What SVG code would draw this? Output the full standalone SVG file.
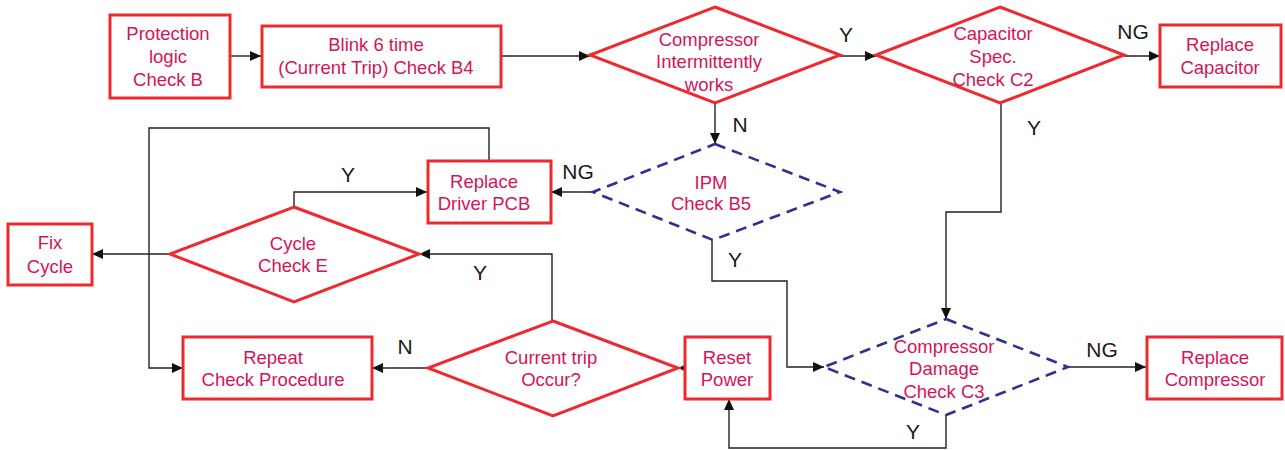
<svg xmlns="http://www.w3.org/2000/svg" width="1285" height="450" viewBox="0 0 1285 450">
<style>
.box{fill:#fff;stroke:#ed2a2f;stroke-width:3}
.dia{fill:#fff;stroke:#ed2a2f;stroke-width:3;stroke-linejoin:miter}
.dash{fill:#fff;stroke:#2e3192;stroke-width:2.6;stroke-dasharray:11 7}
.t{font-family:"Liberation Sans",Arial,sans-serif;font-size:18.5px;fill:#d4145a;text-anchor:middle}
.l{font-family:"Liberation Sans",Arial,sans-serif;font-size:21px;fill:#1a1a1a;text-anchor:middle}
.c{fill:none;stroke:#222;stroke-width:1.4}
</style>
<defs>
<marker id="a" markerUnits="userSpaceOnUse" markerWidth="11" markerHeight="10" refX="11" refY="5" orient="auto">
<path d="M0,0 L11,5 L0,10 Z" fill="#111"/>
</marker>
</defs>
<g id="connectors">
<path class="c" d="M230,56 H261" marker-end="url(#a)"/>
<path class="c" d="M501,56 H590" marker-end="url(#a)"/>
<path class="c" d="M840,56 H876" marker-end="url(#a)"/>
<path class="c" d="M1124,56 H1160" marker-end="url(#a)"/>
<path class="c" d="M715,103 V144" marker-end="url(#a)"/>
<path class="c" d="M593,192 H551" marker-end="url(#a)"/>
<path class="c" d="M489,162 V128 H149 V368 H183" marker-end="url(#a)"/>
<path class="c" d="M294,207 V192 H427" marker-end="url(#a)"/>
<path class="c" d="M170,254 H92" marker-end="url(#a)"/>
<path class="c" d="M552,321 V254 H419" marker-end="url(#a)"/>
<path class="c" d="M428,368 H372" marker-end="url(#a)"/>
<path class="c" d="M685,368 H678" marker-end="url(#a)"/>
<path class="c" d="M712,240 V281 H787 V367 H824" marker-end="url(#a)"/>
<path class="c" d="M1001,103 V212 H946 V319" marker-end="url(#a)"/>
<path class="c" d="M1068,367 H1146" marker-end="url(#a)"/>
<path class="c" d="M946,415 V448 H729 V399" marker-end="url(#a)"/>
<text class="l" x="846" y="42">Y</text>
<text class="l" x="1133" y="39">NG</text>
<text class="l" x="740" y="132">N</text>
<text class="l" x="1034" y="135">Y</text>
<text class="l" x="348" y="182">Y</text>
<text class="l" x="578" y="179">NG</text>
<text class="l" x="480" y="280">Y</text>
<text class="l" x="405" y="354">N</text>
<text class="l" x="735" y="267">Y</text>
<text class="l" x="1102" y="357">NG</text>
<text class="l" x="913" y="439">Y</text>
</g>
<g id="protection">
<rect class="box" x="110" y="15" width="120" height="83"/>
<text class="t" x="168" y="40">Protection</text>
<text class="t" x="168" y="63">logic</text>
<text class="t" x="168" y="86">Check B</text>
</g>
<g id="blink">
<rect class="box" x="262" y="26" width="239" height="61"/>
<text class="t" x="376" y="51">Blink 6 time</text>
<text class="t" x="376" y="74">(Current Trip) Check B4</text>
</g>
<g id="compressor-int">
<polygon class="dia" points="715,7 840,55 715,103 590,55"/>
<text class="t" x="709" y="46">Compressor</text>
<text class="t" x="709" y="68">Intermittently</text>
<text class="t" x="709" y="91">works</text>
</g>
<g id="capacitor">
<polygon class="dia" points="1000,7 1124,55 1000,103 876,55"/>
<text class="t" x="993" y="40">Capacitor</text>
<text class="t" x="993" y="63">Spec.</text>
<text class="t" x="993" y="86">Check C2</text>
</g>
<g id="replace-capacitor">
<rect class="box" x="1160" y="25" width="121" height="62"/>
<text class="t" x="1220" y="51">Replace</text>
<text class="t" x="1220" y="74">Capacitor</text>
</g>
<g id="ipm">
<polygon class="dash" points="715,144 840,192 713,240 593,192"/>
<text class="t" x="711" y="189">IPM</text>
<text class="t" x="711" y="210">Check B5</text>
</g>
<g id="replace-driver">
<rect class="box" x="428" y="161" width="123" height="62"/>
<text class="t" x="484" y="188">Replace</text>
<text class="t" x="484" y="210">Driver PCB</text>
</g>
<g id="cycle">
<polygon class="dia" points="294,207 419,254 294,302 170,254"/>
<text class="t" x="293" y="250">Cycle</text>
<text class="t" x="293" y="272">Check E</text>
</g>
<g id="fix-cycle">
<rect class="box" x="8" y="224" width="84" height="61"/>
<text class="t" x="50" y="249">Fix</text>
<text class="t" x="50" y="273">Cycle</text>
</g>
<g id="repeat">
<rect class="box" x="183" y="337" width="189" height="62"/>
<text class="t" x="273" y="364">Repeat</text>
<text class="t" x="273" y="386">Check Procedure</text>
</g>
<g id="current-trip">
<polygon class="dia" points="553,321 678,368 553,416 428,368"/>
<text class="t" x="551" y="364">Current trip</text>
<text class="t" x="551" y="386">Occur?</text>
</g>
<g id="reset-power">
<rect class="box" x="685" y="337" width="85" height="62"/>
<text class="t" x="727" y="364">Reset</text>
<text class="t" x="727" y="386">Power</text>
</g>
<g id="compressor-damage">
<polygon class="dash" points="946,319 1068,367 946,415 824,367"/>
<text class="t" x="944" y="353">Compressor</text>
<text class="t" x="944" y="375">Damage</text>
<text class="t" x="944" y="398">Check C3</text>
</g>
<g id="replace-compressor">
<rect class="box" x="1147" y="337" width="135" height="62"/>
<text class="t" x="1215" y="364">Replace</text>
<text class="t" x="1215" y="386">Compressor</text>
</g>
</svg>
